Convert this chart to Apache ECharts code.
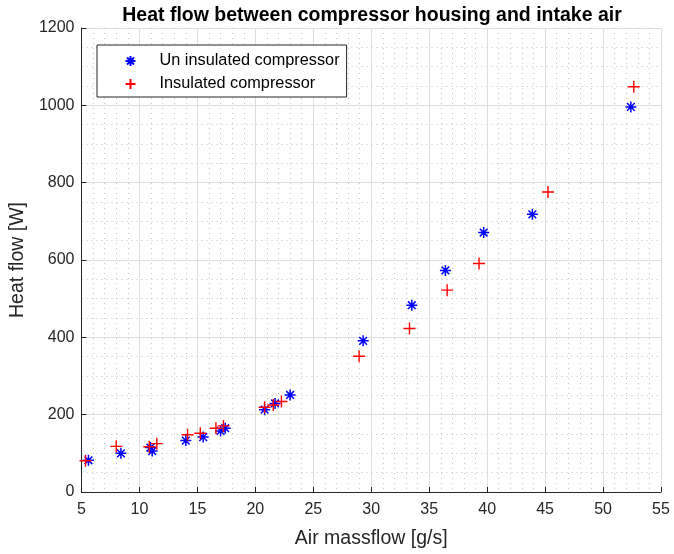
<!DOCTYPE html>
<html>
<head>
<meta charset="utf-8">
<script src="https://cdn.jsdelivr.net/npm/echarts@6/dist/echarts.min.js"></script>
<style>
  html, body { margin: 0; padding: 0; background: #fff; }
  #chart { width: 674px; height: 554px; }
</style>
</head>
<body>
<div id="chart"></div>
<script>
// Measured heat flow versus air mass flow
const uninsulatedFlow = [5.6, 8.4, 10.95, 11.1, 14.0, 15.5, 17.0, 17.4, 20.8, 21.7, 23.0, 29.3, 33.5, 36.4, 39.7, 43.9, 52.4];
const uninsulatedHeat = [82, 100, 115, 106, 133, 142, 158, 165, 213, 229, 251, 391, 483, 573, 671, 718, 996];

const insulatedFlow = [5.35, 8.0, 10.85, 11.5, 14.15, 15.25, 16.6, 17.25, 20.8, 21.55, 22.25, 28.95, 33.3, 36.55, 39.3, 45.25, 52.65];
const insulatedHeat = [81, 118, 117, 125, 148, 152, 165, 171, 219, 225, 234, 351, 423, 522, 591, 776, 1048];

const seriesNames = ['Un insulated compressor', 'Insulated compressor'];

const pairs = (xs, ys) => xs.map((x, i) => [x, ys[i]]);

const starSymbol = 'path://M5,0L5,10M0,5L10,5M1.5,1.5L8.5,8.5M8.5,1.5L1.5,8.5';
const plusSymbol = 'path://M5,0L5,10M0,5L10,5';

const font = 'Liberation Sans, Arial, Helvetica, sans-serif';
const axisDark = '#262626';

const chart = echarts.init(document.getElementById('chart'), null, { renderer: 'canvas' });

chart.setOption({
  animation: false,
  backgroundColor: '#ffffff',
  title: {
    text: 'Heat flow between compressor housing and intake air',
    left: 367,
    top: 1,
    textAlign: 'center',
    textStyle: { fontFamily: font, fontSize: 19.5, fontWeight: 'bold', color: '#000' }
  },
  legend: {
    orient: 'vertical',
    left: 97,
    top: 45,
    padding: [8, 7, 5, 26],
    itemGap: 7,
    itemWidth: 10,
    itemHeight: 10,
    backgroundColor: '#ffffff',
    borderColor: axisDark,
    borderWidth: 1,
    borderRadius: 0,
    textStyle: { fontFamily: font, fontSize: 16.3, color: '#000', padding: [0, 0, 0, 19] },
    data: [
      { name: seriesNames[0], icon: starSymbol },
      { name: seriesNames[1], icon: plusSymbol }
    ]
  },
  grid: { left: 79, right: 13, top: 28, bottom: 62, containLabel: false },
  xAxis: {
    type: 'value',
    min: 5, max: 55, interval: 5,
    name: 'Air massflow [g/s]',
    nameLocation: 'middle',
    nameGap: 37,
    nameTextStyle: { fontFamily: font, fontSize: 19.5, color: axisDark },
    axisLine: { show: true, onZero: false, lineStyle: { color: axisDark, width: 1 } },
    axisTick: { show: true, inside: true, length: 5, lineStyle: { color: axisDark } },
    axisLabel: { fontFamily: font, fontSize: 16, color: axisDark, margin: 10 },
    splitLine: { show: true, lineStyle: { color: '#dedede', width: 1 } },
    minorTick: { show: false, splitNumber: 5 },
    minorSplitLine: { show: true, lineStyle: { color: '#c4c4c4', width: 1, type: [1, 4] } }
  },
  yAxis: {
    type: 'value',
    min: 0, max: 1200, interval: 200,
    name: 'Heat flow [W]',
    nameLocation: 'middle',
    nameGap: 50,
    nameTextStyle: { fontFamily: font, fontSize: 19.5, color: axisDark },
    axisLine: { show: true, onZero: false, lineStyle: { color: axisDark, width: 1 } },
    axisTick: { show: true, inside: true, length: 5, lineStyle: { color: axisDark } },
    axisLabel: { fontFamily: font, fontSize: 16, color: axisDark, margin: 7, formatter: v => String(v) },
    splitLine: { show: true, lineStyle: { color: '#dedede', width: 1 } },
    minorTick: { show: false, splitNumber: 4 },
    minorSplitLine: { show: true, lineStyle: { color: '#c4c4c4', width: 1, type: [1, 4] } }
  },
  series: [
    {
      name: seriesNames[0],
      type: 'scatter',
      symbol: starSymbol,
      symbolSize: 11,
      itemStyle: { color: 'none', borderColor: '#0000ff', borderWidth: 1.5, opacity: 1 },
      data: pairs(uninsulatedFlow, uninsulatedHeat),
      z: 3
    },
    {
      name: seriesNames[1],
      type: 'scatter',
      symbol: plusSymbol,
      symbolSize: 12,
      itemStyle: { color: 'none', borderColor: '#ff0000', borderWidth: 1.4, opacity: 1 },
      data: pairs(insulatedFlow, insulatedHeat),
      z: 4
    }
  ]
});
</script>
</body>
</html>
